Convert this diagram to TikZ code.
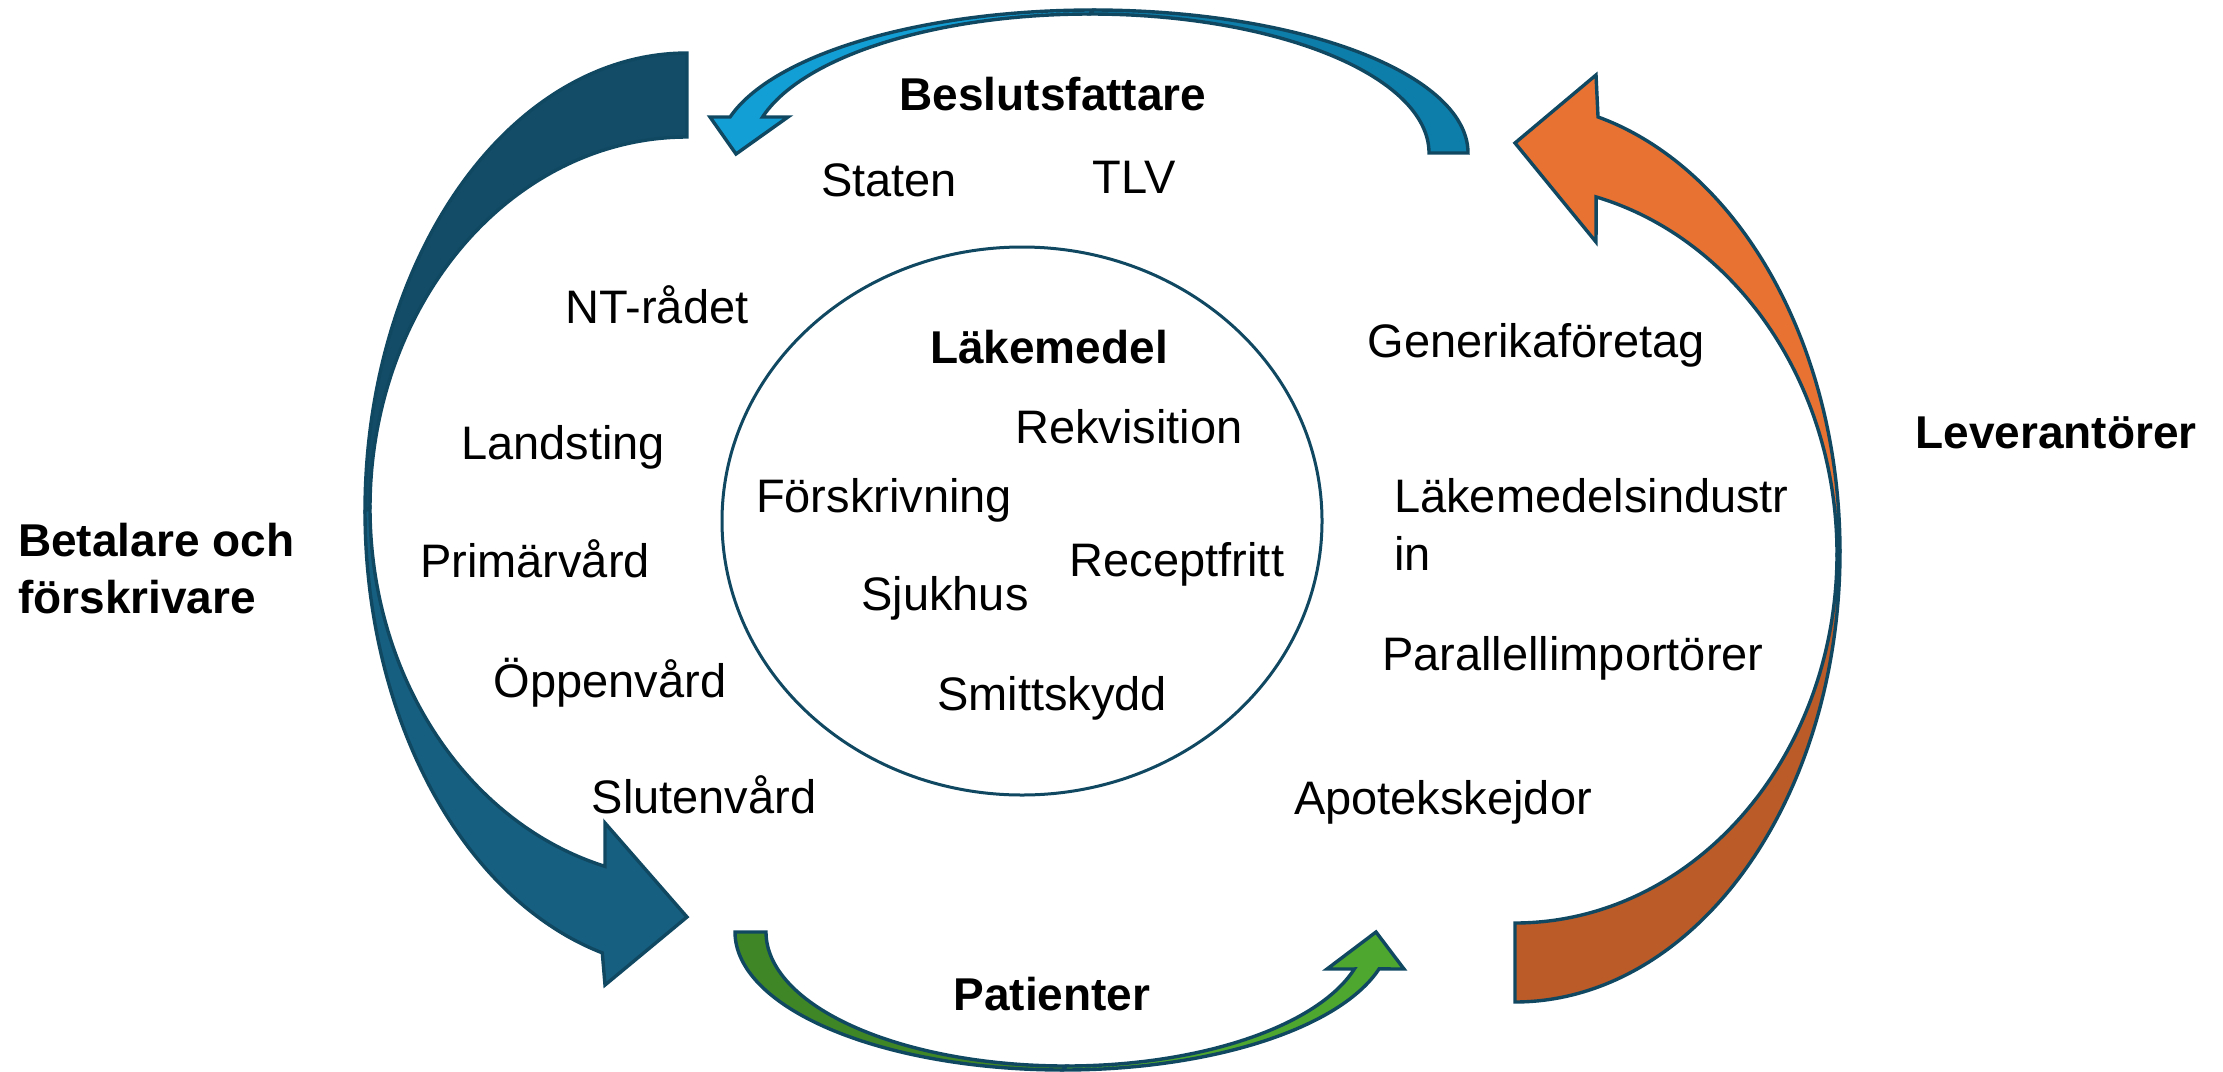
\documentclass[tikz,border=0pt]{standalone}
\usepackage{fontspec}
\setmainfont{Liberation Sans}
\definecolor{edgecol}{HTML}{104862}
\definecolor{leftback}{HTML}{124C67}
\definecolor{leftfront}{HTML}{165F81}
\definecolor{topback}{HTML}{0D7EAA}
\definecolor{topfront}{HTML}{129FD6}
\definecolor{rightback}{HTML}{BA5B28}
\definecolor{rightfront}{HTML}{E87232}
\definecolor{botback}{HTML}{3F8626}
\definecolor{botfront}{HTML}{4EA72E}
\begin{document}
\begin{tikzpicture}[x=1pt,y=-1pt,
  lbl/.style={inner sep=0pt, font=\fontsize{47}{58}\selectfont},
  ttl/.style={inner sep=0pt, font=\fontsize{46}{57}\selectfont\bfseries},
  outline/.style={draw=edgecol, line width=3.4pt, line join=miter},
  arc/.style={samples=90, variable=\t}]
\useasboundingbox (0,0) rectangle (2223,1071);

% left arrow: payers and prescribers (back half, then front half with head)
\path[outline, fill=leftback]
  plot[arc, domain=270:180] ({687+322*cos(\t)},{511+458*sin(\t)})
  -- plot[arc, domain=180:270] ({687+317*cos(\t)},{508+371*sin(\t)}) -- cycle;
\path[outline, fill=leftfront]
  plot[arc, domain=180:105.25] ({687+322*cos(\t)},{511+458*sin(\t)})
  -- (605,985) -- (687,917) -- (605,823)
  -- plot[arc, domain=105:180] ({687+317*cos(\t)},{508+371*sin(\t)}) -- cycle;

% top arrow: decision makers
\path[outline, fill=topback]
  plot[arc, domain=0:-90] ({1093+375*cos(\t)},{153+143*sin(\t)})
  -- plot[arc, domain=-90:0] ({1090+339*cos(\t)},{153+139*sin(\t)}) -- cycle;
\path[outline, fill=topfront]
  plot[arc, domain=-90:-165.4] ({1093+375*cos(\t)},{153+143*sin(\t)})
  -- (710,117) -- (736,154) -- (788,117)
  -- plot[arc, domain=-165:-90] ({1090+339*cos(\t)},{153+139*sin(\t)}) -- cycle;

% right arrow: suppliers
\path[outline, fill=rightback]
  plot[arc, domain=90:0] ({1515+325*cos(\t)},{552+450*sin(\t)})
  -- plot[arc, domain=0:90] ({1515+322*cos(\t)},{554+369*sin(\t)}) -- cycle;
\path[outline, fill=rightfront]
  plot[arc, domain=0:-75.2] ({1515+325*cos(\t)},{552+450*sin(\t)})
  -- (1596,75) -- (1515,143) -- (1596,242)
  -- plot[arc, domain=-75.4:0] ({1515+322*cos(\t)},{554+369*sin(\t)}) -- cycle;

% bottom arrow: patients
\path[outline, fill=botback]
  plot[arc, domain=180:90] ({1063+328*cos(\t)},{932+138*sin(\t)})
  -- plot[arc, domain=90:180] ({1066+300*cos(\t)},{932+134*sin(\t)}) -- cycle;
\path[outline, fill=botfront]
  plot[arc, domain=90:15.5] ({1063+328*cos(\t)},{932+138*sin(\t)})
  -- (1404,969) -- (1376,932) -- (1327,969)
  -- plot[arc, domain=16:90] ({1066+300*cos(\t)},{932+134*sin(\t)}) -- cycle;

% central circle
\draw[draw=edgecol, line width=3pt] (1022,521) ellipse [x radius=300, y radius=274];

% group titles
\node[ttl, anchor=base] (beslut) at (1053,110) {Beslutsfattare};
\node[ttl, anchor=base] (patient) at (1052,1010) {Patienter};
\node[ttl, anchor=base] (lev) at (2056,448) {Leverantörer};
\node[ttl, anchor=base west, align=left] (betal) at (18,613) {Betalare och\\förskrivare};
\node[ttl, anchor=base] (lakemedel) at (1049,363) {Läkemedel};

% decision makers
\node[lbl, anchor=base] (staten) at (889,196) {Staten};
\node[lbl, anchor=base] (tlv) at (1134,193) {TLV};

% payers and prescribers
\node[lbl, anchor=base] (nt) at (657,323) {NT-rådet};
\node[lbl, anchor=base] (landsting) at (563,459) {Landsting};
\node[lbl, anchor=base] (primar) at (535,577) {Primärvård};
\node[lbl, anchor=base] (oppen) at (610,697) {Öppenvård};
\node[lbl, anchor=base] (sluten) at (704,813) {Slutenvård};

% pharmaceuticals
\node[lbl, anchor=base] (rekv) at (1129,443) {Rekvisition};
\node[lbl, anchor=base] (forskr) at (884,512) {Förskrivning};
\node[lbl, anchor=base] (recept) at (1177,576) {Receptfritt};
\node[lbl, anchor=base] (sjukhus) at (945,610) {Sjukhus};
\node[lbl, anchor=base] (smitt) at (1052,710) {Smittskydd};

% suppliers
\node[lbl, anchor=base] (generika) at (1536,357) {Generikaföretag};
\node[lbl, anchor=base west, align=left] (industri) at (1394,570) {Läkemedelsindustr\\in};
\node[lbl, anchor=base west] (parallell) at (1382,670) {Parallellimportörer};
\node[lbl, anchor=base] (apotek) at (1443,814) {Apotekskejdor};
\end{tikzpicture}
\end{document}
